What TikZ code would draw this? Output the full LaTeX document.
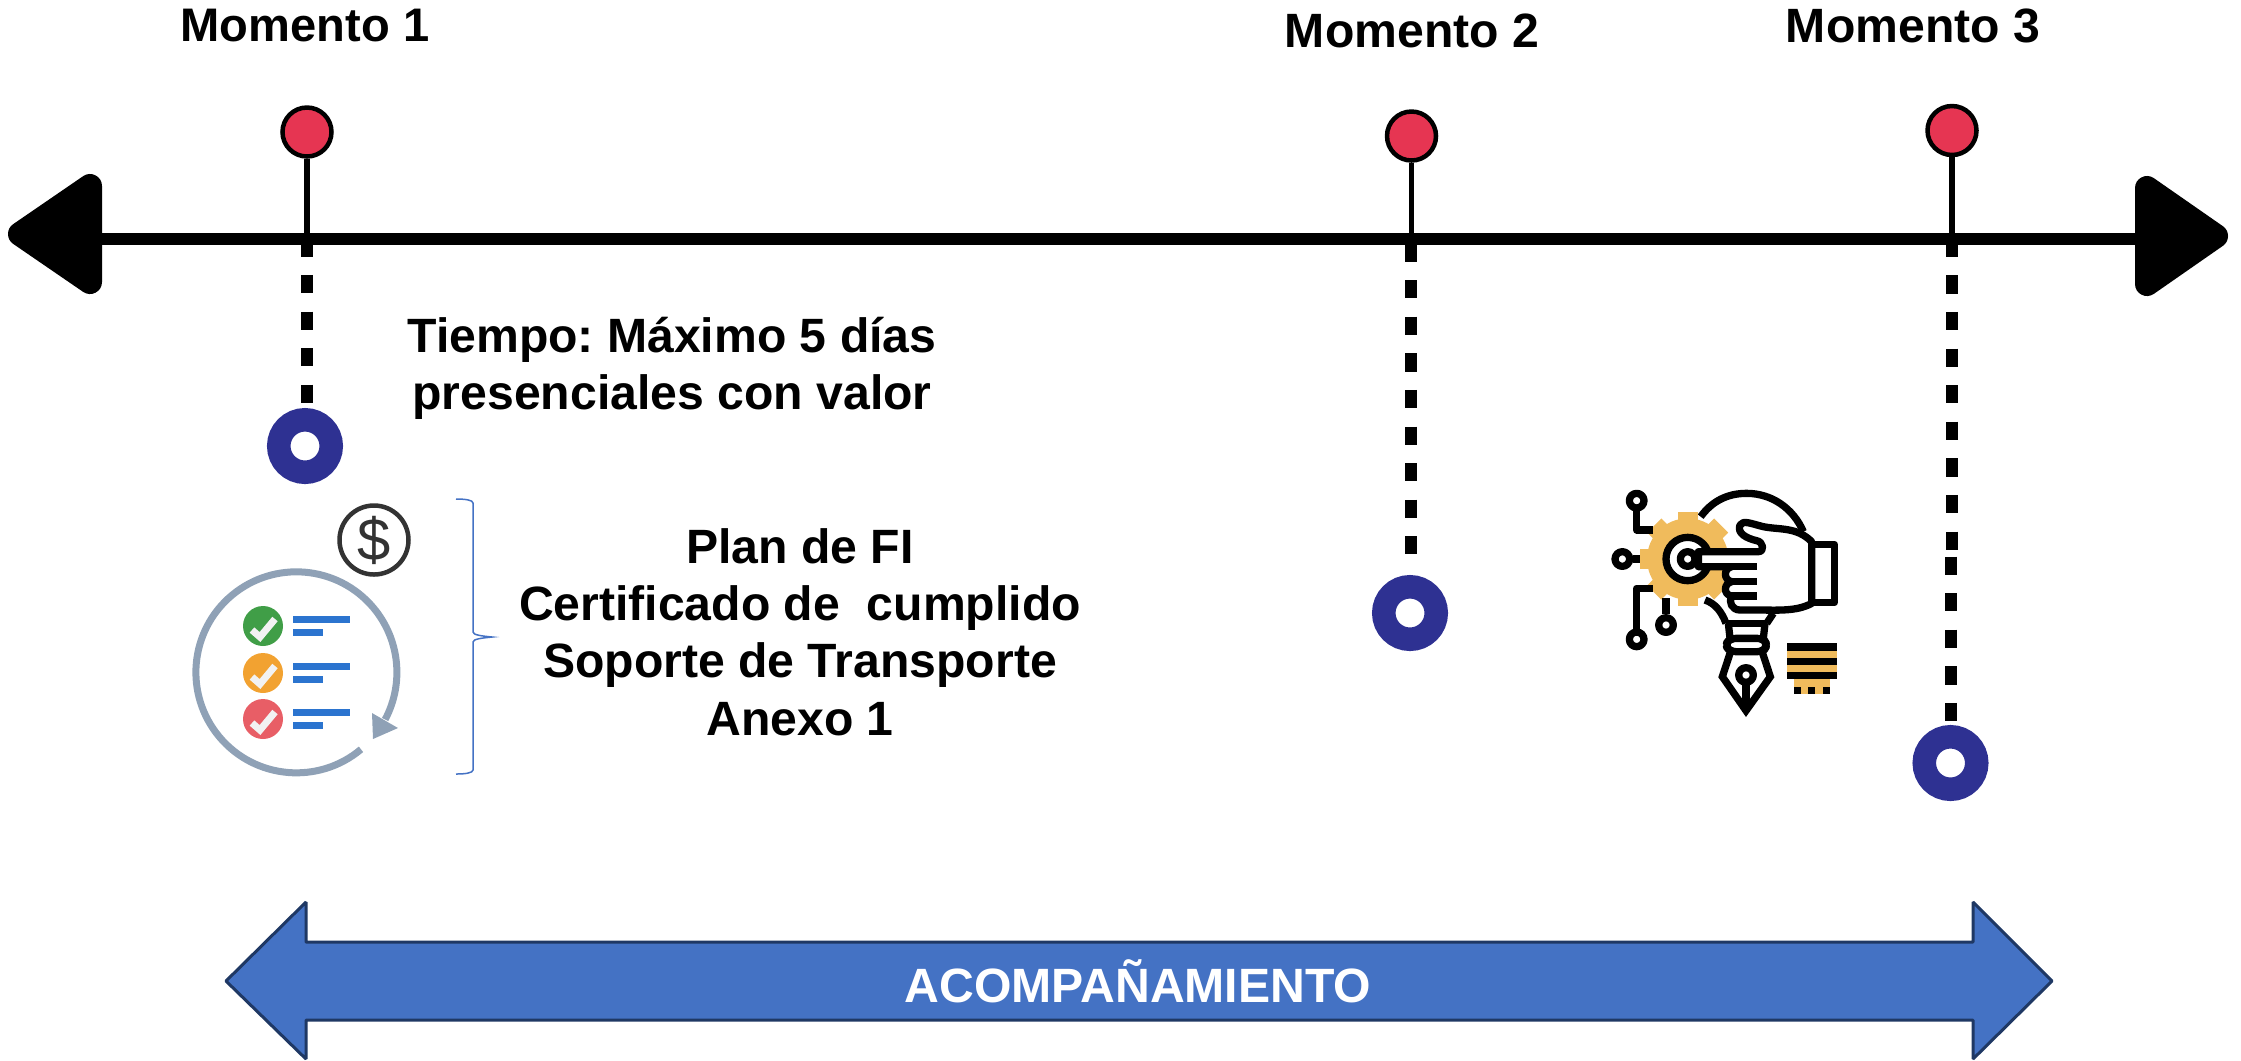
\documentclass[tikz,border=0pt]{standalone}
\usepackage{fontspec}
\usepackage{xcolor}
\setmainfont{Liberation Sans}
\definecolor{pinred}{HTML}{E63552}
\definecolor{ringblue}{HTML}{2E3192}
\definecolor{arrowblue}{HTML}{4472C4}
\definecolor{arrowedge}{HTML}{1F3864}
\definecolor{loopgrey}{HTML}{8FA1B6}
\definecolor{barblue}{HTML}{2B74CF}
\definecolor{okgreen}{HTML}{409E47}
\definecolor{okorange}{HTML}{F2A231}
\definecolor{okred}{HTML}{E85E66}
\definecolor{gold}{HTML}{F0BB5C}

\begin{document}
\frenchspacing
\begin{tikzpicture} [x=0.1mm, y=-0.1mm,
					pin/.style = {draw,
					    circle,
					    fill=pinred,
					    line width=0.45mm,
					    inner sep=0pt,
					    minimum size = 4.9mm},
					ring/.style = {draw=ringblue,
					    circle,
					    fill=white,
					    line width=2.35mm,
					    inner sep=0pt,
					    minimum size = 5.25mm},
					label/.style = {font=\fontsize{13.7}{16.3}\selectfont\bfseries,
					    align=center,
					    inner sep=0pt},
					stem/.style = {line width=0.55mm},
					axis/.style = {line width=1.2mm},
					axishead/.style = {draw, fill, line width=2.4mm, line join=round},
					dashline/.style = {line width=1.2mm,
					    dash pattern=on 1.83mm off 1.83mm},
					iconline/.style = {line width=0.73mm, line join=round}]

	\useasboundingbox (0,0) rectangle (2241,1060);

	\coordinate (axisL) at (100,239);
	\coordinate (axisR) at (2140,239);
	\draw[axishead] (90,186) -- (20,234) -- (90,282) -- cycle;
	\draw[axishead] (2147,188) -- (2216,236) -- (2147,284) -- cycle;
	\draw[axis] (axisL) -- (axisR);

	\foreach \name/\px/\py/\rx/\ry in {1/307/132/305/446, 2/1411.5/136/1410/613, 3/1952/130.5/1950.5/763} {
		\node (pin\name) at (\px,\py) [pin] {};
		\coordinate (cross\name) at (\px,239);
		\node (ring\name) at (\rx,\ry) [ring] {};
		\draw[stem] (pin\name) -- (cross\name);
	}

	\coordinate (dash1) at (307,238.3);
	\coordinate (dash2) at (1411,243.5);
	\coordinate (dash3) at (1951.5,238.7);
	\coordinate (gap3a) at (1951.5,549.7);
	\coordinate (gap3b) at (1950.5,556.5);
	\draw[dashline, shorten >=0.5mm] (dash1) -- (dash1 |- ring1.north);
	\draw[dashline, shorten >=2.1mm] (dash2) -- (dash2 |- ring2.north);
	\draw[dashline] (dash3) -- (gap3a);
	\draw[dashline, shorten >=0.3mm] (gap3b) -- (gap3b |- ring3.north);

	\node (moment1) at (305,26) [label, font=\fontsize{13.4}{16.3}\selectfont\bfseries] {Momento 1};
	\node (moment2) at (1412,31) [label] {Momento 2};
	\node (moment3) at (1913,26) [label] {Momento 3};
	\node (time) at (672,368) [label] {Tiempo: Máximo 5 días\\presenciales con valor};
	\node (docs) at (800,632) [label] {Plan de FI\\Certificado de\ \ cumplido\\Soporte de Transporte\\Anexo 1};

	\draw[arrowblue, line width=0.15mm] (456,499) .. controls (465,499) and (473,500) .. (473,503)
		-- (473,632) .. controls (473,635) and (482,636) .. (492,637)
		.. controls (482,638) and (473,639) .. (473,642)
		-- (473,770) .. controls (473,773) and (465,774) .. (456,774);

	\node (dollar) at (374,540) [draw=black!80, circle, line width=0.45mm, minimum size=6.9mm, inner sep=0pt,
		text=black!80, font=\fontsize{17}{17}\selectfont] {\$};

	\coordinate (loop) at (297,673);
	\draw[loopgrey, line width=0.7mm] (361,749.3) arc[start angle=50, end angle=388, radius=100.5];
	\fill[loopgrey] (372,713) -- (398,728) -- (373,739) -- cycle;
	\foreach \cy/\col in {626/okgreen, 673/okorange, 719/okred} {
		\node (check\col) at (263,\cy) [circle, fill=\col, minimum size=4mm, inner sep=0pt] {};
		\draw[white!95!black, line width=0.7mm] ([shift={(-11,4)}]check\col.center) -- ([shift={(-3,11)}]check\col.center) -- ([shift={(12,-7)}]check\col.center);
		\fill[barblue] (293,\cy-10) rectangle (350,\cy-3);
		\fill[barblue] (293,\cy+3) rectangle (323,\cy+10);
	}

	\begin{scope}[shift={(1590,470)}, scale=1/3]
		\draw[iconline] (332,140) .. controls (365,95) and (410,70) .. (470,70) .. controls (545,70) and (610,115) .. (640,185);
		\draw[iconline] (345,390) .. controls (375,400) and (395,425) .. (408,460);
		\draw[iconline] (550,430) -- (530,460);
		\foreach \a in {0,45,...,315} {
			\fill[gold, rotate around={\a:(293,267)}] (263,125) rectangle (323,200);
		}
		\fill[gold] (293,267) circle (122);
		\draw[iconline] (140,92) circle (22);
		\draw[iconline] (140,122) -- (140,180) -- (190,180);
		\draw[iconline] (97,267) circle (22);
		\draw[iconline] (130,267) -- (150,267);
		\draw[iconline] (140,508) circle (22);
		\draw[iconline] (140,476) -- (140,355) -- (190,355);
		\draw[iconline] (228,465) circle (22);
		\draw[iconline] (228,432) -- (228,385);
		\draw[iconline, fill=white] (293,267) circle (65);
		\draw[iconline, fill=white] (665,223) rectangle (733,398);
		\draw[iconline, fill=white] (325,245) -- (505,245) .. controls (525,245) and (520,215) .. (500,212)
			.. controls (470,205) and (440,190) .. (450,165) .. controls (460,150) and (480,160) .. (520,170)
			.. controls (570,180) and (620,170) .. (665,215) -- (665,400)
			.. controls (620,425) and (560,420) .. (500,420) -- (450,420)
			.. controls (425,420) and (415,395) .. (425,378)
			.. controls (400,375) and (400,340) .. (425,335)
			.. controls (400,330) and (400,295) .. (425,290) -- (325,290) -- cycle;
		\draw[iconline] (500,290) -- (420,290);
		\draw[iconline] (500,335) -- (420,335);
		\draw[iconline] (500,378) -- (420,378);
		\draw[iconline, fill=white] (293,267) circle (22);
		\draw[iconline] (408,460) -- (530,460);
		\draw[iconline, rounded corners=0.6mm] (420,505) -- (520,505) -- (532,525) -- (520,545) -- (420,545) -- (405,525) -- cycle;
		\draw[iconline] (415,460) -- (420,505);
		\draw[iconline] (525,460) -- (520,505);
		\draw[iconline, line join=miter] (420,550) -- (397,620) -- (468,722) -- (541,620) -- (518,550);
		\draw[iconline] (468,615) circle (22);
		\draw[iconline] (468,640) -- (468,725);
		\fill[gold] (590,520) rectangle (742,628);
		\fill (590,520) rectangle (742,542);
		\fill (590,565) rectangle (742,585);
		\fill (590,607) rectangle (742,628);
		\fill[gold] (612,628) rectangle (720,672);
		\foreach \sx in {612,655,700} {
			\fill (\sx,650) rectangle (\sx+20,672);
		}
	\end{scope}

	\draw[arrowedge, fill=arrowblue, line width=0.3mm, line join=bevel] (226,981) -- (306,902) -- (306,942) -- (1973,942) -- (1973,902)
		-- (2052,981) -- (1973,1059) -- (1973,1020) -- (306,1020) -- (306,1059) -- cycle;
	\node (accomp) at (1138,981) [label, text=white] {ACOMPAÑAMIENTO};
\end{tikzpicture}
\end{document}
